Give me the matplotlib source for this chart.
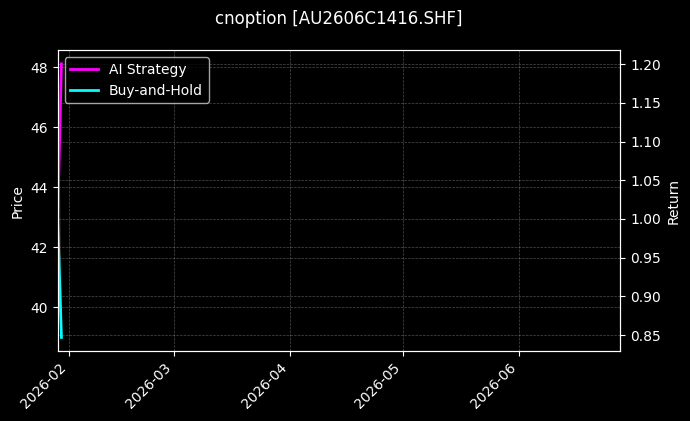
import matplotlib
matplotlib.use("Agg")
import matplotlib.pyplot as plt
import matplotlib.dates as mdates
import pandas as pd

symbol = "AU2606C1416.SHF"
dates = pd.to_datetime(["2026-01-29", "2026-01-30"])
price = [48.12, 38.99]
ai_strategy = [1.0, 1.2005]
buy_hold = [1.0, 0.847]
x_end = pd.Timestamp("2026-06-28")

plt.style.use("dark_background")
fig, ax1 = plt.subplots(figsize=(6.9, 4.21), dpi=100)
fig.subplots_adjust(left=0.0836, right=0.899, top=0.881, bottom=0.166)

# price drawn underneath, mostly hidden by the return curves
ax1.plot(dates, price, color="#555555", linewidth=1, alpha=0.5)
ax1.set_ylabel("Price")
ax1.grid(True, linestyle="--", linewidth=0.5, alpha=0.3)

ax2 = ax1.twinx()
ax2.plot(dates, ai_strategy, color="magenta", linewidth=2, label="AI Strategy")
ax2.plot(dates, buy_hold, color="cyan", linewidth=2, label="Buy-and-Hold")
ax2.set_ylabel("Return")
ax2.grid(True, linestyle="--", linewidth=0.5, alpha=0.3)
ax2.legend(loc="upper left")

ax1.set_xlim(dates[0], x_end)
ax1.xaxis.set_major_locator(mdates.MonthLocator())
ax1.xaxis.set_major_formatter(mdates.DateFormatter("%Y-%m"))
plt.setp(ax1.get_xticklabels(), rotation=45, ha="right")

ax1.set_title(f"cnoption [{symbol}]", pad=19)

plt.savefig("out.png", dpi=100)
